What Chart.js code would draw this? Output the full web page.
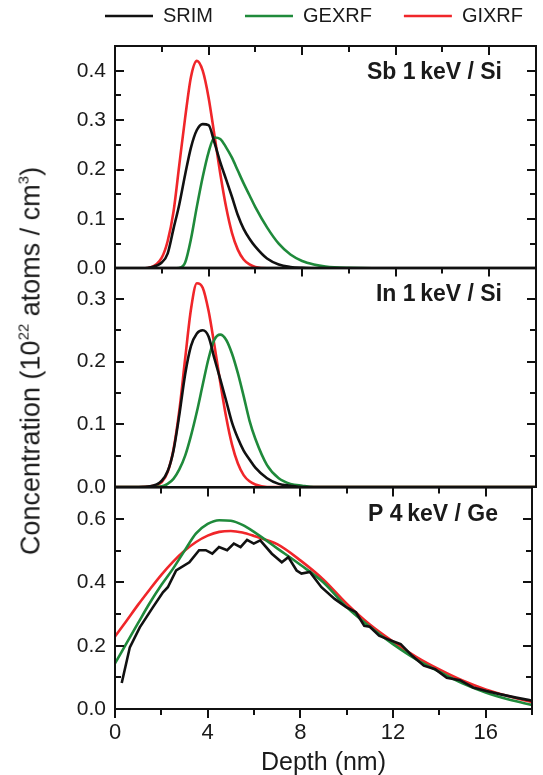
<!DOCTYPE html>
<html>
<head>
<meta charset="utf-8">
<script src="https://cdn.jsdelivr.net/npm/chart.js@4.4.1/dist/chart.umd.min.js"></script>
<style>
  html, body { margin: 0; padding: 0; background: #fff; overflow: hidden; }
  #fig { position: relative; width: 543px; height: 775px; overflow: hidden; font-family: 'Liberation Sans', Arial, sans-serif; }
  canvas { position: absolute; left: 0; }
  #ytitle {
    position: absolute; left: 31px; top: 361px;
    transform: translate(-50%, -50%) rotate(-90deg);
    white-space: nowrap; font-size: 27px; color: #1a1a1a;
  }
  #ytitle sup { font-size: 15px; vertical-align: 11px; line-height: 0; }
</style>
</head>
<body>
<div id="fig">
  <canvas id="panelSb" width="562" height="312" style="top:-26px"></canvas>
  <canvas id="panelIn" width="543" height="260" style="top:250px"></canvas>
  <canvas id="panelP" width="543" height="310" style="top:470px"></canvas>
  <div id="ytitle">Concentration (10<sup>22</sup> atoms / cm<sup>3</sup>)</div>
</div>
<script>
// Depth grid (nm) used for the Sb and In profiles
const peakDepth = [0, 1, 1.5, 2, 2.25, 2.5, 2.75, 3, 3.25, 3.5, 3.75, 4, 4.25, 4.5, 4.75, 5, 5.25, 5.5, 5.75, 6, 6.5, 7, 7.5, 8, 8.5, 9, 10, 11, 12, 18];

// Sb 1 keV / Si
const sbSrim  = [0, 0, 0.002, 0.012, 0.03, 0.08, 0.13, 0.19, 0.245, 0.28, 0.292, 0.29, 0.255, 0.215, 0.18, 0.145, 0.108, 0.08, 0.06, 0.044, 0.02, 0.008, 0.003, 0.001, 0, 0, 0, 0, 0, 0];
const sbGexrf = [0, 0, 0, 0, 0, 0, 0.001, 0.012, 0.06, 0.125, 0.185, 0.235, 0.265, 0.262, 0.245, 0.224, 0.198, 0.172, 0.148, 0.124, 0.083, 0.05, 0.028, 0.015, 0.008, 0.004, 0.001, 0, 0, 0];
const sbGixrf = [0, 0, 0.002, 0.022, 0.055, 0.114, 0.21, 0.305, 0.388, 0.42, 0.40, 0.346, 0.27, 0.192, 0.124, 0.072, 0.038, 0.018, 0.008, 0.003, 0, 0, 0, 0, 0, 0, 0, 0, 0, 0];

// In 1 keV / Si
const inSrim  = [0, 0, 0.001, 0.01, 0.025, 0.058, 0.115, 0.18, 0.225, 0.245, 0.25, 0.24, 0.205, 0.172, 0.138, 0.103, 0.078, 0.058, 0.044, 0.031, 0.014, 0.005, 0.002, 0, 0, 0, 0, 0, 0, 0];
const inGexrf = [0, 0, 0, 0.001, 0.005, 0.013, 0.028, 0.05, 0.082, 0.12, 0.163, 0.205, 0.235, 0.243, 0.235, 0.213, 0.182, 0.145, 0.106, 0.077, 0.035, 0.014, 0.005, 0.002, 0, 0, 0, 0, 0, 0];
const inGixrf = [0, 0, 0.001, 0.008, 0.024, 0.06, 0.122, 0.205, 0.284, 0.325, 0.318, 0.281, 0.226, 0.167, 0.112, 0.068, 0.038, 0.019, 0.009, 0.004, 0, 0, 0, 0, 0, 0, 0, 0, 0, 0];

// P 4 keV / Ge (fitted profiles)
const pDepth = [0, 0.5, 1, 1.5, 2, 2.5, 3, 3.5, 4, 4.5, 5, 5.5, 6, 7, 8, 9, 10, 11, 12, 13, 14, 15, 16, 17, 18];
const pGexrf = [0.144, 0.208, 0.272, 0.335, 0.392, 0.443, 0.50, 0.555, 0.585, 0.597, 0.595, 0.582, 0.56, 0.508, 0.456, 0.40, 0.322, 0.26, 0.205, 0.157, 0.118, 0.081, 0.052, 0.03, 0.013];
const pGixrf = [0.229, 0.279, 0.33, 0.378, 0.424, 0.465, 0.50, 0.528, 0.548, 0.56, 0.563, 0.558, 0.547, 0.521, 0.47, 0.409, 0.333, 0.267, 0.213, 0.165, 0.125, 0.09, 0.062, 0.04, 0.022];

// P 4 keV / Ge (SRIM, noisy)
const pSrimDepth = [0.29, 0.64, 1.07, 1.64, 2.07, 2.28, 2.64, 3.21, 3.63, 3.92, 4.2, 4.49, 4.84, 5.13, 5.42, 5.7, 5.99, 6.27, 6.77, 7.2, 7.48, 7.84, 8.05, 8.41, 8.91, 9.48, 9.98, 10.4, 10.76, 11.0, 11.4, 11.76, 12.33, 12.83, 13.33, 13.82, 14.32, 14.89, 15.46, 16.03, 16.6, 17.31, 17.88, 18];
const pSrim = [0.082, 0.195, 0.258, 0.322, 0.369, 0.385, 0.438, 0.464, 0.502, 0.502, 0.491, 0.512, 0.502, 0.523, 0.512, 0.535, 0.523, 0.533, 0.491, 0.464, 0.48, 0.438, 0.428, 0.433, 0.385, 0.348, 0.322, 0.306, 0.263, 0.26, 0.232, 0.221, 0.205, 0.168, 0.137, 0.126, 0.099, 0.091, 0.068, 0.057, 0.047, 0.036, 0.028, 0.026];

const seriesNames = ['SRIM', 'GEXRF', 'GIXRF'];
const seriesColors = ['#111111', '#1f8a3b', '#f0262a'];

const FONT = "'Liberation Sans', Arial, sans-serif";
Chart.defaults.font.family = FONT;
Chart.defaults.color = '#1a1a1a';

function toPoints(xs, ys) {
    return xs.map((x, i) => ({ x: x, y: ys[i] }));
}

function makeDataset(idx, points, smooth) {
    return {
        label: seriesNames[idx],
        data: points,
        borderColor: seriesColors[idx],
        backgroundColor: seriesColors[idx],
        borderWidth: 2.6,
        pointRadius: 0,
        pointStyle: 'line',
        fill: false,
        cubicInterpolationMode: smooth ? 'monotone' : 'default',
        tension: 0
    };
}

// Box frame, inward tick marks and the panel caption
const frameTicks = {
    id: 'frameTicks',
    afterDatasetsDraw(chart, args, opts) {
        const { ctx, chartArea: a, scales: { x, y } } = chart;
        ctx.save();
        ctx.strokeStyle = '#111';
        ctx.lineWidth = 2;
        ctx.strokeRect(a.left, a.top, a.width, a.height);

        ctx.beginPath();
        for (let v = 0; v <= 18; v += 2) {
            const px = Math.round(x.getPixelForValue(v));
            const len = v % 4 === 0 ? 9 : 6;
            ctx.moveTo(px, a.top);
            ctx.lineTo(px, a.top + len);
            if (opts.bottomTicks) {
                ctx.moveTo(px, a.bottom);
                ctx.lineTo(px, a.bottom + len);
            }
        }
        const n = Math.round(y.max / opts.yMinor);
        for (let i = 1; i < n; i++) {
            const py = Math.round(y.getPixelForValue(i * opts.yMinor));
            const len = i % 2 === 0 ? 9 : 6;
            ctx.moveTo(a.left, py);
            ctx.lineTo(a.left + len, py);
            ctx.moveTo(a.right, py);
            ctx.lineTo(a.right - len, py);
        }
        ctx.stroke();

        ctx.fillStyle = '#1a1a1a';
        ctx.font = 'bold 23px ' + FONT;
        ctx.textAlign = 'right';
        ctx.textBaseline = 'middle';
        ctx.fillText(opts.label, a.right - 34, a.top + 27);
        ctx.restore();
    }
};

function makePanel(canvasId, datasets, yMax, yStep, caption, extra) {
    const isTop = !!extra.legend;
    const isBottom = !!extra.xLabels;
    const scales = {
        x: {
            type: 'linear',
            min: 0,
            max: 18,
            display: isTop || isBottom,
            position: isTop ? 'top' : 'bottom',
            grid: { display: false, drawTicks: false },
            border: { display: false },
            ticks: {
                display: isBottom,
                stepSize: 2,
                padding: 11,
                font: { size: 22 },
                callback: v => (v % 4 === 0 ? v : '')
            },
            title: {
                display: isBottom,
                text: 'Depth (nm)',
                font: { size: 25 },
                padding: { top: 0, bottom: 3 }
            },
            afterFit: s => { s.height = isTop ? 10 : (isBottom ? 72 : 0); }
        },
        y: {
            type: 'linear',
            min: 0,
            max: yMax,
            grid: { display: false, drawTicks: false },
            border: { display: false },
            ticks: {
                stepSize: yStep,
                includeBounds: false,
                padding: 9,
                font: { size: 21 },
                callback: v => v.toFixed(1)
            },
            afterFit: s => { s.width = 115; }
        }
    };
    if (extra.rightSpace) {
        // empty right-hand axis: only widens the legend row past the plot edge
        scales.yRight = {
            type: 'linear',
            position: 'right',
            min: 0,
            max: yMax,
            grid: { display: false, drawTicks: false },
            border: { display: false },
            ticks: { display: false },
            afterFit: s => { s.width = extra.rightSpace; }
        };
    }

    const config = {
        type: 'line',
        data: { datasets: datasets },
        options: {
            responsive: false,
            animation: false,
            devicePixelRatio: 1,
            layout: { padding: extra.padding },
            scales: scales,
            plugins: {
                legend: {
                    display: isTop,
                    position: 'top',
                    align: 'end',
                    labels: {
                        usePointStyle: true,
                        pointStyle: 'line',
                        pointStyleWidth: 48,
                        padding: 32,
                        font: { size: 20 },
                        color: '#1a1a1a'
                    }
                },
                tooltip: { enabled: false },
                frameTicks: { label: caption, yMinor: yStep / 2, bottomTicks: isBottom }
            }
        },
        plugins: [frameTicks]
    };

    // build once, then grow the canvas so the plot box gets the wanted height
    const canvas = document.getElementById(canvasId);
    let chart = new Chart(canvas, config);
    const deficit = Math.round(extra.plotHeight - (chart.chartArea.bottom - chart.chartArea.top));
    if (deficit !== 0) {
        chart.destroy();
        canvas.height = canvas.height + deficit;
        chart = new Chart(canvas, config);
    }
    return chart;
}

const sbChart = makePanel('panelSb', [
    makeDataset(0, toPoints(peakDepth, sbSrim), true),
    makeDataset(1, toPoints(peakDepth, sbGexrf), true),
    makeDataset(2, toPoints(peakDepth, sbGixrf), true)
], 0.45, 0.1, 'Sb 1\u2009keV / Si', {
    legend: true, rightSpace: 19, plotHeight: 222,
    padding: { top: 0, left: 0, right: 7, bottom: 18 }
});

const inChart = makePanel('panelIn', [
    makeDataset(0, toPoints(peakDepth, inSrim), true),
    makeDataset(1, toPoints(peakDepth, inGexrf), true),
    makeDataset(2, toPoints(peakDepth, inGixrf), true)
], 0.35, 0.1, 'In 1\u2009keV / Si', {
    plotHeight: 219, padding: { top: 18, left: 0, right: 7, bottom: 23 }
});

const pChart = makePanel('panelP', [
    makeDataset(0, toPoints(pSrimDepth, pSrim), false),
    makeDataset(1, toPoints(pDepth, pGexrf), true),
    makeDataset(2, toPoints(pDepth, pGixrf), true)
], 0.7, 0.2, 'P 4\u2009keV / Ge', {
    xLabels: true, plotHeight: 221, padding: { top: 17, left: 0, right: 7, bottom: 0 }
});

// line the three plot boxes up so they share their borders
sbChart.canvas.style.top = (268 - sbChart.chartArea.bottom) + 'px';
inChart.canvas.style.top = (268 - inChart.chartArea.top) + 'px';
pChart.canvas.style.top = (268 + inChart.chartArea.bottom - inChart.chartArea.top - pChart.chartArea.top) + 'px';
</script>
</body>
</html>
